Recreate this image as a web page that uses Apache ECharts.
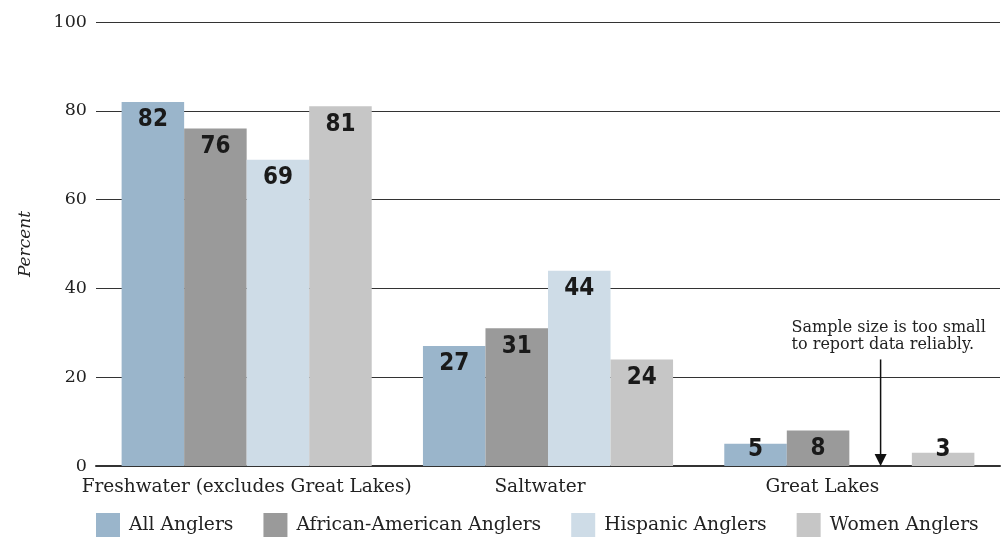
<!DOCTYPE html>
<html>
<head>
<meta charset="utf-8">
<script src="https://cdn.jsdelivr.net/npm/echarts@6/dist/echarts.min.js"></script>
<style>
html,body{margin:0;padding:0;background:#fff;}
#c{width:1005px;height:539px;}
</style>
</head>
<body>
<div id="c"></div>
<script>
var categories = ['Freshwater (excludes Great Lakes)', 'Saltwater', 'Great Lakes'];
var seriesNames = ['All Anglers', 'African-American Anglers', 'Hispanic Anglers', 'Women Anglers'];
var allAnglers = [82, 27, 5];
var africanAmericanAnglers = [76, 31, 8];
var hispanicAnglers = [69, 44, null];
var womenAnglers = [81, 24, 3];
var yTicks = [0, 20, 40, 60, 80, 100];
var noteText = ['Sample size is too small', 'to report data reliably.'];
var noteCategory = 'Great Lakes';

var colors = ['#9ab5cb', '#9a9a9a', '#cedce7', '#c6c6c6'];
var serif = "'DejaVu Serif', serif";
var narrow = "'DejaVu Sans Condensed', 'DejaVu Sans', sans-serif";

var chart = echarts.init(document.getElementById('c'), null, {renderer: 'canvas'});

function mkSeries(name, data, idx) {
  return {
    name: name,
    type: 'bar',
    data: data.map(function (v) {
      if (v !== null && v < 7) {
        return {value: v, label: {position: 'insideBottom', distance: 4}};
      }
      return v;
    }),
    barGap: '0%',
    barCategoryGap: '17%',
    itemStyle: {color: colors[idx]},
    label: {
      show: true,
      position: 'insideTop',
      distance: 6,
      color: '#1a1a1a',
      fontFamily: narrow,
      fontWeight: 'bold condensed',
      fontSize: 24
    },
    emphasis: {disabled: true}
  };
}

var labelShift = {'Saltwater': 'b', 'Great Lakes': 'c'};

var option = {
  animation: false,
  backgroundColor: '#fff',
  grid: {left: 96, right: 5, top: 22, bottom: 73, containLabel: false},
  legend: {
    left: 96,
    bottom: 2,
    padding: 0,
    itemWidth: 24,
    itemHeight: 24,
    itemGap: 30,
    icon: 'rect',
    textStyle: {fontFamily: serif, fontSize: 18.7, color: '#222', padding: [0, 0, 0, 4]},
    data: seriesNames
  },
  xAxis: {
    type: 'category',
    data: categories,
    axisTick: {show: false},
    axisLine: {lineStyle: {color: '#333', width: 2}},
    axisLabel: {
      interval: 0,
      fontFamily: serif, fontSize: 18.5, color: '#222', margin: 12,
      formatter: function (v) {
        var k = labelShift[v] || 'a';
        return '{' + k + '|' + v + '}';
      },
      rich: {
        a: {fontFamily: serif, fontSize: 18.5, color: '#222'},
        b: {fontFamily: serif, fontSize: 18.5, color: '#222', padding: [0, 16, 0, 0]},
        c: {fontFamily: serif, fontSize: 18.5, color: '#222', padding: [0, 54, 0, 0]}
      }
    }
  },
  yAxis: {
    type: 'value',
    min: yTicks[0],
    max: yTicks[yTicks.length - 1],
    interval: yTicks[1] - yTicks[0],
    name: 'Percent',
    nameLocation: 'middle',
    nameGap: 62,
    nameTextStyle: {fontFamily: serif, fontStyle: 'italic', fontSize: 17, color: '#222'},
    axisLine: {show: false},
    axisTick: {show: false},
    axisLabel: {fontFamily: serif, fontSize: 17.5, color: '#222', margin: 9},
    splitLine: {lineStyle: {color: '#333', width: 1}}
  },
  series: [
    mkSeries(seriesNames[0], allAnglers, 0),
    mkSeries(seriesNames[1], africanAmericanAnglers, 1),
    mkSeries(seriesNames[2], hispanicAnglers, 2),
    mkSeries(seriesNames[3], womenAnglers, 3)
  ]
};
chart.setOption(option);

// annotation arrow at the missing Hispanic bar position
var ci = categories.indexOf(noteCategory);
var cx = chart.convertToPixel({xAxisIndex: 0}, ci);
var band = chart.convertToPixel({xAxisIndex: 0}, 1) - chart.convertToPixel({xAxisIndex: 0}, 0);
var bw = band * (1 - 0.17) / 4;
var ax = cx + (2 - 1.5) * bw;
var yTop = chart.convertToPixel({yAxisIndex: 0}, 24);
var yBot = chart.convertToPixel({yAxisIndex: 0}, 0);
var yText = chart.convertToPixel({yAxisIndex: 0}, 25.3);
chart.setOption({
  graphic: [
    {type: 'line', shape: {x1: ax, y1: yTop, x2: ax, y2: yBot - 10}, style: {stroke: '#111', lineWidth: 1.5}, z: 10},
    {type: 'polygon', shape: {points: [[ax - 6, yBot - 12], [ax + 6, yBot - 12], [ax, yBot]]}, style: {fill: '#111'}, z: 10},
    {type: 'text', x: ax - 89, y: yText, style: {text: noteText.join('\n'), fontFamily: serif, fontSize: 16, lineHeight: 17, fill: '#222', textAlign: 'left', textVerticalAlign: 'bottom'}, z: 10}
  ]
});
</script>
</body>
</html>
